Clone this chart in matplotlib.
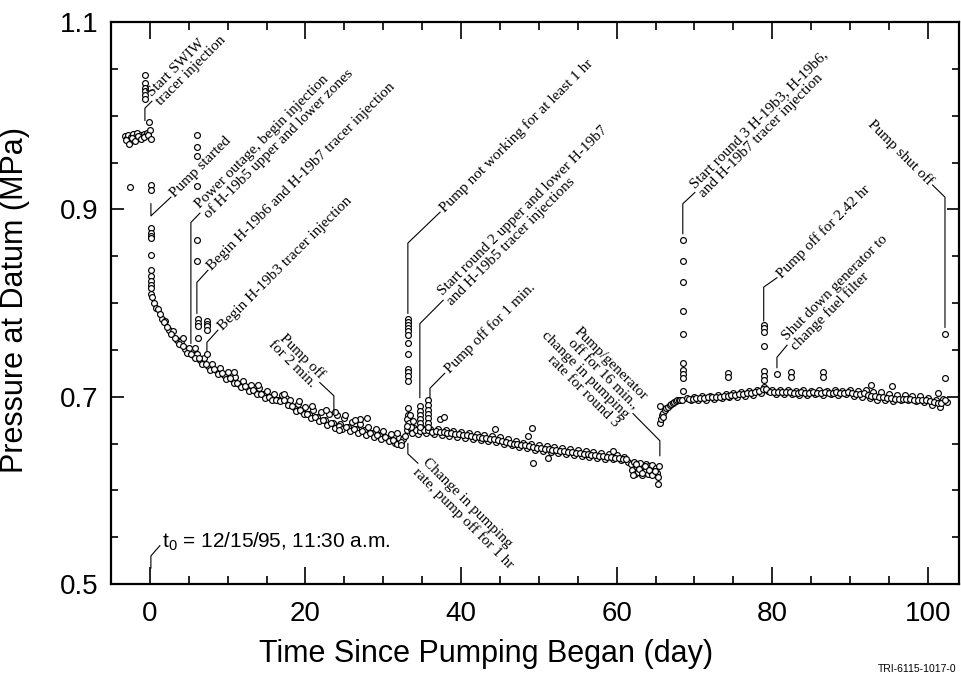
import numpy as np
import matplotlib
matplotlib.use("Agg")
import matplotlib.pyplot as plt
from matplotlib import font_manager
from matplotlib.ticker import MultipleLocator, FixedLocator

# ---------------- fonts ----------------
def pick(names):
    out = []
    for n in names:
        try:
            font_manager.findfont(n, fallback_to_default=False)
            out.append(n)
        except Exception:
            pass
    return out or ["DejaVu Sans"]

SANS = pick(["Liberation Sans", "DejaVu Sans"])
SERIF = pick(["Liberation Serif", "DejaVu Serif"])
plt.rcParams["font.family"] = SANS
plt.rcParams["mathtext.fontset"] = "custom"
plt.rcParams["mathtext.rm"] = SANS[0]

# ---------------- data ----------------
# before pumping
pre_t = [-3.2, -3.0, -2.8, -2.6, -2.4, -2.2, -2.0, -1.8, -1.6, -1.4, -1.2, -1.0, -0.8,
         -0.6, -0.4, -0.2, 0.0, -3.1, -2.7, -2.3, -1.9, -1.5, -1.1, -0.7, -0.3, 0.1,
         -2.6, 0.1, 0.1, -0.1]
pre_p = [0.978, 0.976, 0.979, 0.972, 0.977, 0.980, 0.975, 0.978, 0.981, 0.976, 0.979, 0.977, 0.980,
         0.978, 0.982, 0.979, 0.985, 0.974, 0.970, 0.976, 0.973, 0.978, 0.975, 0.977, 0.979, 0.975,
         0.924, 0.926, 0.921, 0.993]

# drawdown, day 0 to 33
dec1_t = [0.2, 0.3, 0.5, 0.8,
          1.0, 1.5, 2.0, 2.5, 3.0, 3.5, 4.0, 4.5, 5.0, 5.5, 6.0, 6.5, 7.0, 7.5, 8.0, 8.5,
          9.0, 9.5, 10.0, 10.5, 11.0, 11.5, 12.0, 12.5, 13.0, 13.5, 14.0, 14.5, 15.0, 15.5,
          16.0, 16.5, 17.0, 17.5, 18.0, 18.5, 19.0, 19.5, 20.0, 20.5, 21.0, 21.5, 22.0, 22.5,
          23.0, 23.5, 24.0, 24.5, 25.0, 25.5, 26.0, 26.5, 27.0, 27.5, 28.0, 28.5, 29.0, 29.5,
          30.0, 30.5, 31.0, 31.5, 32.0, 32.5, 33.0,
          1.25, 1.75, 2.25, 2.75, 3.25, 3.75, 4.25, 4.75, 5.25, 5.75, 6.25, 6.75, 7.25, 7.75,
          8.25, 8.75, 9.25, 9.75, 10.25, 10.75, 11.25, 11.75, 12.25, 12.75, 13.25, 13.75, 14.25,
          14.75, 15.25, 15.75, 16.25, 16.75, 17.25, 17.75, 18.25, 18.75, 19.25, 19.75, 20.25,
          20.75, 21.25, 21.75, 22.25, 22.75, 23.25, 23.75, 24.25, 24.75, 25.25, 25.75, 26.25,
          26.75, 27.25, 27.75, 28.25, 28.75, 29.25, 29.75, 30.25, 30.75, 31.25, 31.75, 32.25, 32.75]
dec1_p = [0.810, 0.806, 0.800, 0.795,
          0.794, 0.783, 0.781, 0.771, 0.770, 0.760, 0.759, 0.751, 0.752, 0.744, 0.746, 0.739, 0.741,
          0.733, 0.735, 0.728, 0.731, 0.723, 0.726, 0.719, 0.721, 0.714, 0.717, 0.710, 0.713, 0.706,
          0.709, 0.703, 0.706, 0.700, 0.703, 0.697, 0.702, 0.699, 0.697, 0.689, 0.692, 0.685, 0.689,
          0.681, 0.686, 0.678, 0.684, 0.675, 0.681, 0.672, 0.680, 0.671, 0.677, 0.668, 0.673, 0.665,
          0.671, 0.664, 0.668, 0.661, 0.666, 0.659, 0.663, 0.656, 0.660, 0.651, 0.656, 0.655, 0.664,
          0.788, 0.780, 0.774, 0.767, 0.763, 0.756, 0.754, 0.747, 0.746, 0.741, 0.741, 0.735, 0.735,
          0.729, 0.730, 0.724, 0.725, 0.719, 0.720, 0.715, 0.715, 0.710, 0.711, 0.706, 0.707, 0.703,
          0.703, 0.699, 0.700, 0.697, 0.697, 0.695, 0.696, 0.691, 0.690, 0.685, 0.686, 0.681, 0.682,
          0.677, 0.678, 0.674, 0.675, 0.670, 0.672, 0.667, 0.669, 0.665, 0.668, 0.663, 0.665, 0.661,
          0.663, 0.659, 0.661, 0.657, 0.659, 0.655, 0.657, 0.653, 0.654, 0.650, 0.652, 0.658]

# drawdown, day 33.5 to 61.5
dec2_t = [33.5, 34.0, 34.5, 35.0, 35.5, 36.0, 36.5, 37.0, 37.5, 38.0, 38.5, 39.0, 39.5, 40.0,
          40.5, 41.0, 41.5, 42.0, 42.5, 43.0, 43.5, 44.0, 44.5, 45.0, 45.5, 46.0, 46.5, 47.0,
          47.5, 48.0, 48.5, 49.0, 49.5, 50.0, 50.5, 51.0, 51.5, 52.0, 52.5, 53.0, 53.5, 54.0,
          54.5, 55.0, 55.5, 56.0, 56.5, 57.0, 57.5, 58.0, 58.5, 59.0, 59.5, 60.0, 60.5, 61.0, 61.5,
          33.75, 34.25, 34.75, 35.25, 35.75, 36.25, 36.75, 37.25, 37.75, 38.25, 38.75, 39.25,
          39.75, 40.25, 40.75, 41.25, 41.75, 42.25, 42.75, 43.25, 43.75, 44.25, 44.75, 45.25,
          45.75, 46.25, 46.75, 47.25, 47.75, 48.25, 48.75, 49.25, 49.75, 50.25, 50.75, 51.25,
          51.75, 52.25, 52.75, 53.25, 53.75, 54.25, 54.75, 55.25, 55.75, 56.25, 56.75, 57.25,
          57.75, 58.25, 58.75, 59.25, 59.75, 60.25, 60.75, 61.25]
dec2_p = [0.666, 0.667, 0.660, 0.667, 0.661, 0.666, 0.660, 0.665, 0.659, 0.664, 0.658, 0.663,
          0.657, 0.662, 0.656, 0.661, 0.655, 0.660, 0.654, 0.659, 0.653, 0.658, 0.652, 0.657,
          0.650, 0.655, 0.648, 0.653, 0.646, 0.651, 0.645, 0.650, 0.643, 0.648, 0.642, 0.647,
          0.641, 0.646, 0.640, 0.645, 0.639, 0.644, 0.638, 0.643, 0.637, 0.642, 0.636, 0.641,
          0.635, 0.640, 0.634, 0.639, 0.633, 0.638, 0.632, 0.636, 0.630,
          0.661, 0.664, 0.663, 0.664, 0.664, 0.662, 0.663, 0.662, 0.662, 0.661, 0.661, 0.660,
          0.660, 0.659, 0.659, 0.658, 0.657, 0.657, 0.656, 0.656, 0.655, 0.655, 0.654, 0.653,
          0.652, 0.651, 0.650, 0.649, 0.648, 0.648, 0.647, 0.646, 0.645, 0.645, 0.644, 0.644,
          0.643, 0.643, 0.642, 0.642, 0.641, 0.641, 0.640, 0.640, 0.639, 0.639, 0.638, 0.638,
          0.637, 0.637, 0.636, 0.636, 0.635, 0.635, 0.634, 0.633]

# pump/generator trouble, day 61.8 to 65.4
drop_t = [61.8, 62.0, 62.2, 62.4, 62.6, 62.8, 63.0, 63.2, 63.4, 63.6, 63.8, 64.0, 64.2, 64.4,
          64.6, 64.8, 65.0, 65.2, 65.4, 62.1, 62.5, 62.9, 63.3, 63.7, 64.1, 64.5, 64.9, 65.3, 65.3]
drop_p = [0.628, 0.622, 0.630, 0.617, 0.625, 0.620, 0.629, 0.616, 0.624, 0.621, 0.628, 0.618,
          0.626, 0.620, 0.627, 0.617, 0.624, 0.619, 0.626, 0.616, 0.628, 0.623, 0.619, 0.626,
          0.622, 0.616, 0.621, 0.614, 0.607]

# recovery after rate change
rec_t = [65.6, 65.6, 65.7, 65.8, 66.0, 66.0, 66.2, 66.4, 66.6, 66.8, 67.0, 67.2, 67.4, 67.6,
         67.8, 68.0, 68.2, 68.4]
rec_p = [0.672, 0.690, 0.676, 0.680, 0.683, 0.678, 0.686, 0.688, 0.689, 0.691, 0.692, 0.693,
         0.694, 0.695, 0.696, 0.696, 0.697, 0.697]

# round 3 plateau, day 69 to 102.5
plat_t = [69.0, 69.5, 70.0, 70.5, 71.0, 71.5, 72.0, 72.5, 73.0, 73.5, 74.0, 74.5, 75.0, 75.5,
          76.0, 76.5, 77.0, 77.5, 78.0, 78.5, 79.0, 79.5, 80.0, 80.5, 81.0, 81.5, 82.0, 82.5,
          83.0, 83.5, 84.0, 84.5, 85.0, 85.5, 86.0, 86.5, 87.0, 87.5, 88.0, 88.5, 89.0, 89.5,
          90.0, 90.5, 91.0, 91.5, 92.0, 92.5, 93.0, 93.5, 94.0, 94.5, 95.0, 95.5, 96.0, 96.5,
          97.0, 97.5, 98.0, 98.5, 99.0, 99.5, 100.0, 100.5, 101.0, 101.5, 102.0, 102.5,
          69.25, 69.75, 70.25, 70.75, 71.25, 71.75, 72.25, 72.75, 73.25, 73.75, 74.25, 74.75,
          75.25, 75.75, 76.25, 76.75, 77.25, 77.75, 78.25, 78.75, 79.25, 79.75, 80.25, 80.75,
          81.25, 81.75, 82.25, 82.75, 83.25, 83.75, 84.25, 84.75, 85.25, 85.75, 86.25, 86.75,
          87.25, 87.75, 88.25, 88.75, 89.25, 89.75, 90.25, 90.75, 91.25, 91.75, 92.25, 92.75,
          93.25, 93.75, 94.25, 94.75, 95.25, 95.75, 96.25, 96.75, 97.25, 97.75, 98.25, 98.75,
          99.25, 99.75, 100.25, 100.75, 101.25, 101.75, 102.25]
plat_p = [0.699, 0.696, 0.700, 0.697, 0.701, 0.697, 0.701, 0.698, 0.702, 0.699, 0.703, 0.700,
          0.704, 0.700, 0.705, 0.701, 0.706, 0.702, 0.707, 0.704, 0.710, 0.706, 0.707, 0.703,
          0.707, 0.703, 0.707, 0.703, 0.706, 0.702, 0.707, 0.702, 0.706, 0.703, 0.707, 0.702,
          0.706, 0.703, 0.707, 0.702, 0.706, 0.703, 0.707, 0.701, 0.706, 0.700, 0.707, 0.699,
          0.705, 0.697, 0.705, 0.696, 0.703, 0.695, 0.702, 0.696, 0.702, 0.696, 0.701, 0.695,
          0.701, 0.694, 0.699, 0.691, 0.697, 0.689, 0.698, 0.694,
          0.698, 0.698, 0.699, 0.699, 0.699, 0.700, 0.700, 0.700, 0.700, 0.701, 0.701, 0.702,
          0.702, 0.703, 0.703, 0.704, 0.704, 0.705, 0.706, 0.708, 0.708, 0.705, 0.705, 0.705,
          0.705, 0.705, 0.705, 0.704, 0.704, 0.705, 0.704, 0.704, 0.705, 0.704, 0.704, 0.705,
          0.704, 0.704, 0.705, 0.704, 0.704, 0.705, 0.704, 0.703, 0.703, 0.704, 0.702, 0.701,
          0.701, 0.700, 0.700, 0.699, 0.699, 0.698, 0.698, 0.698, 0.698, 0.698, 0.697, 0.697,
          0.697, 0.696, 0.695, 0.694, 0.693, 0.693, 0.696]

# event spikes (pump off / injections)
spike_t = [-0.64, -0.64, -0.64, -0.64, -0.64, -0.64,
           0.1, 0.1, 0.1, 0.1, 0.1, 0.1, 0.1, 0.1, 0.1, 0.1,
           6.1, 6.1, 6.1, 6.1, 6.1, 6.1,
           6.2, 6.2, 6.2, 6.2, 7.3, 7.3, 7.3, 7.3, 7.3,
           33.2, 33.2, 33.2, 33.2, 33.2, 33.2, 33.2, 33.2, 33.2, 33.2, 33.2, 33.2, 33.2, 33.2, 33.2, 33.2,
           33.0, 33.3, 33.6, 33.8, 33.4, 33.0,
           34.7, 34.7, 34.7, 34.7, 34.7, 34.7,
           35.7, 35.7, 35.7, 35.7, 35.7, 35.7, 35.7,
           68.5, 68.5, 68.5, 68.5, 68.5, 68.5, 68.5, 68.5, 68.5, 68.5,
           78.9, 78.9, 78.9, 78.9, 78.9, 78.9, 78.9,
           102.2, 102.2]
spike_p = [1.043, 1.035, 1.030, 1.026, 1.022, 1.018,
           0.880, 0.875, 0.872, 0.869, 0.851, 0.835, 0.829, 0.824, 0.819, 0.816,
           0.979, 0.967, 0.957, 0.925, 0.867, 0.845,
           0.783, 0.779, 0.776, 0.763, 0.781, 0.778, 0.775, 0.771, 0.746,
           0.783, 0.780, 0.777, 0.773, 0.770, 0.766, 0.757, 0.746, 0.730, 0.726, 0.722, 0.717,
           0.688, 0.680, 0.675, 0.670,
           0.676, 0.672, 0.668, 0.674, 0.680, 0.669,
           0.690, 0.685, 0.680, 0.676, 0.672, 0.668,
           0.696, 0.691, 0.686, 0.681, 0.677, 0.672, 0.668,
           0.867, 0.845, 0.822, 0.792, 0.767, 0.736, 0.728, 0.724, 0.720, 0.706,
           0.777, 0.773, 0.769, 0.754, 0.727, 0.722, 0.718,
           0.767, 0.720]

# scattered single readings
odd_t = [27.0, 27.9, 37.3, 37.8, 44.3, 48.6, 49.1, 49.2, 51.2, 59.5, 74.3, 74.3, 80.6, 82.4,
         82.4, 86.5, 86.5, 92.7, 95.4, 101.3, 23.8, 24.3, 25.1, 22.6, 26.4, 20.8, 19.2, 17.3,
         13.9, 10.8, 5.8, 4.2, 31.8, 32.3]
odd_p = [0.676, 0.677, 0.676, 0.678, 0.666, 0.658, 0.667, 0.629, 0.635, 0.642, 0.725, 0.721,
         0.724, 0.726, 0.721, 0.726, 0.721, 0.713, 0.711, 0.704, 0.684, 0.664, 0.680, 0.686,
         0.675, 0.690, 0.695, 0.703, 0.712, 0.726, 0.752, 0.763, 0.661, 0.648]

y_major = [0.5, 0.7, 0.9, 1.1]

# ---------------- figure ----------------
fig = plt.figure(figsize=(9.61, 6.78), dpi=100)
ax = fig.add_axes([0.1155, 0.1386, 0.8824, 0.8289])

mk = dict(ls="none", marker="o", ms=4.2, mfc="white", mec="black", mew=0.85)
for tt, pp in [(pre_t, pre_p), (dec1_t, dec1_p), (dec2_t, dec2_p), (drop_t, drop_p),
               (rec_t, rec_p), (plat_t, plat_p), (spike_t, spike_p), (odd_t, odd_p)]:
    ax.plot(tt, pp, **mk)

ax.set_xlim(-5, 104)
ax.set_ylim(0.5, 1.1)
ax.xaxis.set_major_locator(MultipleLocator(20))
ax.xaxis.set_minor_locator(MultipleLocator(5))
ax.yaxis.set_major_locator(FixedLocator(y_major))
ax.yaxis.set_minor_locator(MultipleLocator(0.05))
ax.yaxis.set_major_formatter(plt.FuncFormatter(lambda v, p: f"{v:.1f}"))

ax.tick_params(which="both", direction="in", top=True, right=True, width=1.2, colors="black")
ax.tick_params(axis="x", which="major", length=12, pad=12, labelsize=20)
ax.tick_params(axis="x", which="minor", length=6)
ax.tick_params(axis="y", which="major", length=9, pad=9, labelsize=20)
ax.tick_params(axis="y", which="minor", length=5)
for s in ax.spines.values():
    s.set_linewidth(1.6)

ax.set_xlabel("Time Since Pumping Began (day)", fontsize=22)
ax.set_ylabel("Pressure at Datum (MPa)", fontsize=22)
ax.xaxis.set_label_coords(0.442, -0.098)
ax.yaxis.set_label_coords(-0.095, 0.505)

# ---------------- annotations ----------------
notes = [
    ("Start SWIW\ntracer injection", [-0.64, -0.64, 0.26], [0.995, 1.008, 1.0155], (0.5, 1.018), 45, "left"),
    ("Pump started", [0.13, 0.13, 2.7], [0.906, 0.893, 0.913], (2.95, 0.915), 45, "left"),
    ("Power outage, begin injection\nof H-19b5 upper and lower zones", [5.27, 5.27, 6.43], [0.757, 0.886, 0.896], (6.7, 0.898), 45, "left"),
    ("Begin H-19b6 and H-19b7 tracer injection", [6.04, 6.04, 7.46], [0.789, 0.822, 0.835], (7.7, 0.837), 45, "left"),
    ("Begin H-19b3 tracer injection", [7.33, 7.33, 8.74], [0.749, 0.758, 0.771], (9.0, 0.773), 45, "left"),
    ("Pump off\nfor 2 min.", [23.65, 23.65, 21.85], [0.682, 0.701, 0.715], (21.6, 0.717), -45, "right"),
    ("Pump not working for at least 1 hr", [33.16, 33.16, 37.3], [0.789, 0.864, 0.897], (37.55, 0.899), 45, "left"),
    ("Start round 2 upper and lower H-19b7\nand H-19b5 tracer injections", [34.7, 34.7, 37.7], [0.699, 0.778, 0.803], (37.95, 0.805), 45, "left"),
    ("Pump off for 1 min.", [36.0, 36.0, 37.9], [0.699, 0.709, 0.725], (38.15, 0.727), 45, "left"),
    ("Change in pumping\nrate, pump off for 1 hr", [33.16, 33.16, 34.45], [0.650, 0.639, 0.629], (34.7, 0.627), -45, "left"),
    ("Pump/generator\noff for 16 min.,\nchange in pumping\nrate for round 3", [65.55, 65.55, 62.1], [0.637, 0.653, 0.682], (61.85, 0.684), -45, "right"),
    ("Start round 3 H-19b3, H-19b6,\nand H-19b7 tracer injection", [68.5, 68.5, 70.05], [0.874, 0.906, 0.918], (70.3, 0.920), 45, "left"),
    ("Pump off for 2.42 hr", [78.9, 78.9, 80.6], [0.781, 0.817, 0.827], (80.85, 0.829), 45, "left"),
    ("Shut down generator to\nchange fuel filter", [80.6, 80.6, 81.9], [0.731, 0.742, 0.755], (82.15, 0.757), 45, "left"),
    ("Pump shut off", [102.2, 102.2, 100.6], [0.774, 0.913, 0.926], (100.35, 0.928), -45, "right"),
]
for txt, lx, ly, (tx, ty), rot, ha in notes:
    ax.plot(lx, ly, color="black", lw=0.8)
    ax.text(tx, ty, txt, rotation=rot, rotation_mode="anchor", ha=ha, va="center",
            multialignment=ha, family=SERIF, fontsize=11, linespacing=1.0)

ax.plot([0.13, 0.13, 1.28], [0.517, 0.530, 0.541], color="black", lw=0.8)
ax.text(1.5, 0.545, r"t$_{\mathregular{0}}$ = 12/15/95, 11:30 a.m.", ha="left", va="center", fontsize=15)

fig.text(0.995, 0.006, "TRI-6115-1017-0", ha="right", va="bottom", fontsize=7.5)

fig.savefig("out.png", dpi=100)
